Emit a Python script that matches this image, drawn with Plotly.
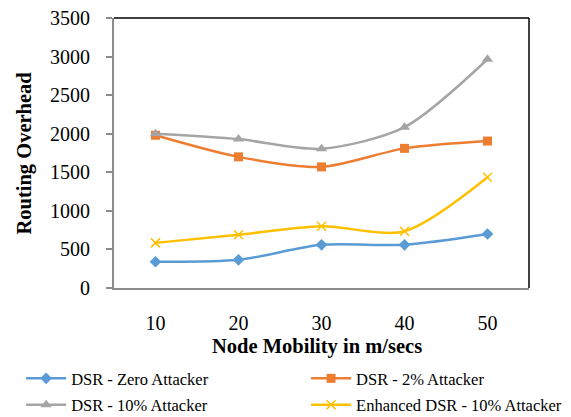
import plotly.graph_objects as go

mobility = ["10", "20", "30", "40", "50"]
zero_attacker = [340, 365, 560, 560, 700]
two_pct_attacker = [1980, 1700, 1570, 1810, 1905]
ten_pct_attacker = [2000, 1930, 1805, 2085, 2965]
enhanced_ten_pct = [585, 690, 800, 735, 1435]

y_ticks = [0, 500, 1000, 1500, 2000, 2500, 3000, 3500]

# name, values, colour, marker symbol, marker size, legend column
series = [
    ("DSR - Zero Attacker", zero_attacker, "#5B9BD5", "diamond", 9, "legend"),
    ("DSR - 2% Attacker", two_pct_attacker, "#ED7D31", "square", 9, "legend2"),
    ("DSR - 10% Attacker", ten_pct_attacker, "#A5A5A5", "triangle-up", 10, "legend"),
    ("Enhanced DSR - 10% Attacker", enhanced_ten_pct, "#FFC000", "x-thin", 9, "legend2"),
]

font_family = "Liberation Serif, Times New Roman, serif"

fig = go.Figure()
for name, vals, color, sym, size, leg in series:
    marker = dict(symbol=sym, size=size, color=color)
    if sym == "x-thin":
        marker["line"] = dict(color=color, width=1.5)
    fig.add_trace(go.Scatter(
        x=mobility, y=vals, name=name, mode="lines+markers",
        line=dict(color=color, width=2.5, shape="spline", smoothing=0.8),
        marker=marker, legend=leg, legendgroup=name,
    ))

legend_common = dict(
    orientation="v", xref="container", yref="container",
    yanchor="top", xanchor="left", itemwidth=40,
    font=dict(size=16.5, family=font_family, color="black"),
    tracegroupgap=2, bgcolor="rgba(0,0,0,0)",
)

fig.update_layout(
    width=571, height=417,
    margin=dict(l=114, r=42, t=18, b=129, autoexpand=False),
    paper_bgcolor="white", plot_bgcolor="white",
    font=dict(family=font_family, color="black", size=20),
    showlegend=True,
    legend=dict(legend_common, x=0.037, y=0.134),
    legend2=dict(legend_common, x=0.536, y=0.134),
)

fig.update_xaxes(
    type="category", range=[-0.5, 4.5], automargin=False,
    showline=True, linecolor="#8C8C8C", linewidth=2,
    showgrid=False, ticks="", ticklabelstandoff=16,
    tickfont=dict(family=font_family, size=20),
)
fig.update_yaxes(
    range=[0, 3500], tickvals=y_ticks, automargin=False,
    showline=True, linecolor="#8C8C8C", linewidth=2,
    showgrid=False, ticks="outside", ticklen=6, tickcolor="#8C8C8C", tickwidth=1.5,
    ticklabelstandoff=12, zeroline=False,
    tickfont=dict(family=font_family, size=20),
)

title_font = dict(size=20.5, family=font_family, color="black")

# axis titles
fig.add_annotation(
    text="<b>Node Mobility in m/secs</b>",
    xref="paper", yref="paper", x=0.49, y=-0.218,
    xanchor="center", yanchor="middle", showarrow=False, font=title_font,
)
fig.add_annotation(
    text="<b>Routing Overhead</b>", textangle=-90,
    xref="paper", yref="paper", x=-0.218, y=0.5,
    xanchor="center", yanchor="middle", showarrow=False, font=title_font,
)

# black frame on top and right of the plotting area
fig.add_shape(type="line", xref="paper", yref="paper", x0=0, x1=1, y0=1, y1=1,
              line=dict(color="black", width=1.5))
fig.add_shape(type="line", xref="paper", yref="paper", x0=1, x1=1, y0=0, y1=1,
              line=dict(color="black", width=1.5))

fig.write_html("out.html")
